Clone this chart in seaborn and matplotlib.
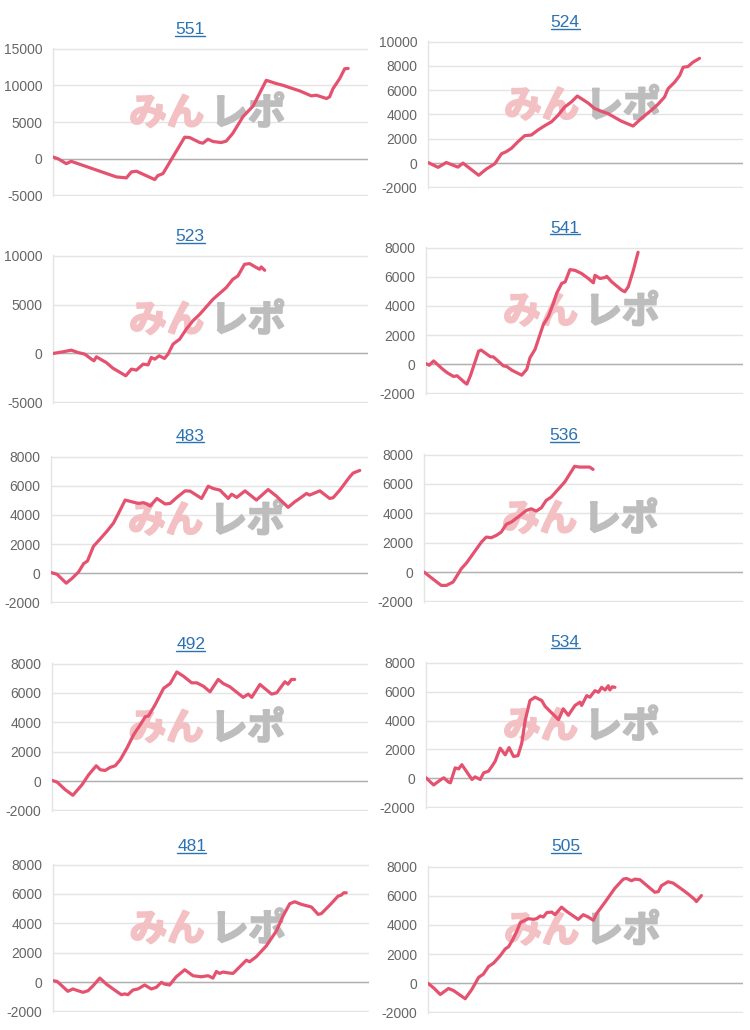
import matplotlib
matplotlib.use("Agg")
import matplotlib.pyplot as plt
import matplotlib.patheffects as pe
from matplotlib.lines import Line2D
import pandas as pd
import seaborn as sns

sns.set_theme(style="white")
plt.rcParams["font.family"] = ["Liberation Sans", "DejaVu Sans"]

# ---------------- data (x = % of the day's axis, y = balance) ----------------
TITLES = ["551", "524", "523", "541", "483", "536", "492", "534", "481", "505"]

X_551 = [0, 1.6, 4.2, 5.8, 20.1, 23.3, 24.9, 26.5, 32.3, 33.3, 34.9, 41.8, 43.4, 46.6, 47.6, 49.2, 50.8,
         53.4, 55.0, 57.1, 60.3, 63.5, 67.7, 70.9, 73.0, 75.1, 78.3, 82.0, 83.6, 86.8, 87.8, 88.9, 91.0, 92.6, 93.7]
Y_551 = [225, 0, -675, -360, -2480, -2610, -1800, -1710, -2840, -2300, -2030, 2930, 2880, 2200, 2120, 2660, 2340,
         2200, 2400, 3470, 5720, 7160, 10680, 10230, 10000, 9690, 9240, 8560, 8650, 8200, 8420, 9550, 10900, 12250, 12300]

X_524 = [0, 3.2, 5.8, 9.5, 11.1, 16.1, 18.5, 21.2, 23.3, 24.9, 26.5, 28.6, 30.7, 32.8, 34.9, 37.0, 39.2, 41.3,
         43.4, 45.5, 47.4, 50.8, 52.9, 55.0, 57.1, 61.4, 65.1, 67.7, 70.9, 73.0, 75.1, 76.2, 78.3, 79.9, 81.0,
         82.5, 84.1, 86.2]
Y_524 = [50, -350, 50, -330, 0, -1000, -490, -50, 760, 950, 1220, 1770, 2260, 2310, 2720, 3070, 3400, 3940,
         4620, 5030, 5520, 4950, 4490, 4270, 4080, 3450, 3050, 3670, 4350, 4840, 5440, 6120, 6660, 7210, 7890,
         7940, 8300, 8620]

X_523 = [0, 3.2, 5.8, 7.9, 10.1, 12.2, 13.0, 13.8, 15.4, 16.9, 19.0, 23.1, 24.9, 26.5, 28.6, 30.2, 31.2, 32.3,
         33.7, 35.4, 36.5, 38.1, 40.2, 42.3, 44.4, 46.6, 50.8, 55.0, 57.1, 58.7, 60.8, 62.4, 64.6, 65.6, 66.1, 67.2]
Y_523 = [0, 170, 340, 100, -70, -580, -750, -340, -650, -920, -1500, -2280, -1600, -1700, -1090, -1160, -410,
         -580, -240, -510, -70, 950, 1460, 2480, 3330, 4010, 5540, 6730, 7580, 7920, 9110, 9180, 8770, 8600, 8840, 8500]

X_541 = [0, 1.0, 2.4, 5.0, 6.6, 8.7, 9.8, 12.4, 12.9, 14.0, 16.6, 17.4, 20.3, 21.3, 24.4, 25.5, 27.1, 30.2, 31.8,
         32.8, 34.4, 37.0, 38.6, 40.2, 41.2, 42.8, 43.9, 45.4, 47.0, 49.1, 51.2, 52.8, 53.3, 54.9, 56.5, 57.0,
         58.6, 61.7, 62.7, 63.8, 65.4, 66.9]
Y_541 = [45, -70, 230, -290, -570, -840, -790, -1290, -1360, -790, 900, 970, 520, 500, -110, -160, -410, -750,
         -340, 450, 1020, 2710, 3280, 4180, 4860, 5540, 5650, 6490, 6440, 6220, 5880, 5580, 6100, 5880, 5950, 6030,
         5650, 5090, 4970, 5310, 6440, 7680]

X_483 = [0, 1.9, 4.8, 6.6, 8.7, 10.3, 11.5, 13.4, 15.5, 17.6, 19.7, 21.3, 23.4, 25.5, 27.6, 29.2, 30.2, 31.3,
         33.4, 36.0, 37.6, 39.7, 42.3, 43.9, 47.5, 49.6, 51.2, 53.3, 55.9, 57.0, 58.6, 61.2, 64.8, 68.5, 71.1,
         74.8, 76.9, 78.0, 80.6, 81.6, 84.8, 87.9, 89.0, 91.1, 94.2, 95.3, 97.4]
Y_483 = [45, -70, -680, -360, 90, 660, 840, 1850, 2350, 2870, 3440, 4110, 5020, 4900, 4790, 4840, 4750, 4610,
         5130, 4750, 4790, 5200, 5650, 5630, 5130, 5970, 5810, 5700, 5130, 5420, 5200, 5650, 5020, 5740, 5290,
         4520, 4900, 5060, 5470, 5360, 5650, 5130, 5180, 5700, 6600, 6870, 7050]

X_536 = [0, 2.3, 5.4, 7.0, 9.1, 10.1, 11.7, 13.3, 15.4, 18.0, 19.5, 21.1, 22.7, 24.2, 25.8, 27.4, 29.5, 32.1,
         33.6, 35.2, 36.8, 38.3, 39.9, 44.1, 47.2, 48.8, 51.9, 53.0]
Y_536 = [0, -390, -910, -910, -680, -340, 230, 610, 1250, 2040, 2380, 2340, 2500, 2720, 3250, 3410, 3750, 4200,
         4310, 4150, 4380, 4880, 5110, 6130, 7200, 7150, 7150, 6990]

X_492 = [0, 1.6, 4.2, 6.6, 9.5, 11.6, 14.0, 15.3, 16.8, 18.4, 20.0, 21.6, 23.7, 25.8, 27.9, 29.5, 30.5, 32.6,
         35.3, 37.4, 39.5, 41.6, 44.2, 45.8, 47.9, 50.0, 52.6, 54.2, 56.3, 60.5, 62.1, 63.2, 65.8, 69.5, 71.1,
         73.7, 74.7, 75.8, 76.8]
Y_492 = [45, -70, -590, -970, -250, 430, 1040, 770, 720, 930, 1040, 1450, 2240, 3140, 3820, 4380, 4430, 5180,
         6310, 6640, 7430, 7140, 6690, 6690, 6460, 6080, 6920, 6640, 6420, 5700, 5920, 5700, 6580, 5920, 6010,
         6760, 6600, 6920, 6920]

X_534 = [0, 2.4, 4.5, 5.6, 7.1, 7.7, 9.2, 10.3, 11.3, 14.5, 15.5, 17.1, 18.2, 19.7, 20.8, 21.8, 23.4, 25.0,
         26.2, 27.6, 29.0, 30.2, 31.3, 32.8, 34.4, 36.5, 37.6, 41.8, 43.3, 44.9, 47.0, 48.6, 49.1, 50.7, 51.7,
         53.3, 54.4, 55.4, 56.5, 57.5, 58.0, 58.8, 59.6]
Y_534 = [45, -450, -110, 45, -250, -300, 730, 660, 950, -70, 110, -70, 390, 500, 840, 1180, 2090, 1630, 2130,
         1520, 1570, 2430, 4020, 5380, 5610, 5380, 4970, 4060, 4810, 4360, 5040, 5270, 5040, 5720, 5610, 6060,
         5950, 6290, 6110, 6400, 6110, 6330, 6290]

X_481 = [0, 1.3, 4.7, 6.3, 7.9, 9.5, 11.1, 12.7, 14.8, 16.9, 19.0, 21.6, 22.7, 23.7, 25.3, 26.9, 29.0, 31.1,
         32.7, 34.3, 35.3, 36.9, 39.0, 41.7, 44.3, 46.9, 49.1, 50.6, 51.7, 52.7, 53.8, 55.9, 57.0, 59.1, 61.2,
         62.2, 64.3, 67.5, 70.7, 72.8, 74.9, 76.5, 78.6, 81.8, 83.9, 84.9, 87.6, 90.2, 91.2, 92.0, 92.8]
Y_481 = [90, 45, -630, -470, -590, -700, -590, -250, 270, -140, -470, -860, -810, -860, -540, -470, -200, -470,
         -360, -20, -140, -200, 360, 840, 430, 360, 430, 270, 720, 590, 680, 610, 590, 1040, 1490, 1380, 1720,
         2460, 3480, 4500, 5330, 5470, 5290, 5110, 4610, 4660, 5240, 5850, 5920, 6080, 6080]

X_505 = [0, 1.8, 3.9, 6.5, 8.1, 11.8, 13.9, 16.1, 17.6, 19.2, 20.8, 22.9, 24.5, 25.6, 27.1, 28.2, 29.3, 30.8,
         31.9, 33.5, 34.5, 35.6, 36.6, 37.7, 39.3, 40.3, 42.4, 44.0, 47.7, 49.3, 50.9, 52.5, 53.5, 56.2, 59.3,
         62.0, 63.0, 64.6, 65.7, 67.3, 72.0, 73.1, 74.1, 76.2, 77.8, 80.5, 82.6, 84.7, 85.2, 86.8]
Y_505 = [0, -320, -770, -360, -500, -1060, -430, 410, 630, 1150, 1380, 1880, 2350, 2510, 3070, 3570, 4160, 4320,
         4430, 4380, 4430, 4610, 4540, 4840, 4880, 4700, 5220, 4930, 4380, 4700, 4540, 4320, 4770, 5560, 6510,
         7140, 7190, 7030, 7140, 7100, 6240, 6280, 6690, 6960, 6870, 6460, 6120, 5740, 5600, 6010]

SERIES_X = [X_551, X_524, X_523, X_541, X_483, X_536, X_492, X_534, X_481, X_505]
SERIES_Y = [Y_551, Y_524, Y_523, Y_541, Y_483, Y_536, Y_492, Y_534, Y_481, Y_505]

TICKS_A = [-5000, 0, 5000, 10000, 15000]
TICKS_B = [-2000, 0, 2000, 4000, 6000, 8000, 10000]
TICKS_C = [-5000, 0, 5000, 10000]
TICKS_D = [-2000, 0, 2000, 4000, 6000, 8000]
YTICKS = [TICKS_A, TICKS_B, TICKS_C, TICKS_D, TICKS_D, TICKS_D, TICKS_D, TICKS_D, TICKS_D, TICKS_D]

# ---------------- layout (pixels: left, top, right, bottom) ----------------
W, H = 750, 1030
BOXES = [(53, 48, 368, 196), (428, 41, 743, 188),
         (53, 255, 368, 403), (426, 247, 743, 394),
         (51, 456, 368, 603), (424, 454, 743, 602),
         (52, 663, 368, 811), (426, 662, 743, 808),
         (53, 864, 369, 1012), (428, 866, 743, 1013)]
TITLE_POS = [(190, 34.3), (565, 27.3), (190, 241), (565, 232.7), (190, 440.7),
             (564, 440), (190.7, 649.3), (565, 646.7), (191.7, 851), (566, 851)]

LINE_COLOR = "#e5526f"
GRID_COLOR = "#e4e4e4"
ZERO_COLOR = "#b0b0b0"
TICK_COLOR = "#666666"
TITLE_COLOR = "#2a72b2"
PINK = "#f3c0c3"
GRAY = "#bdbdbd"
CJK = ["Noto Sans CJK JP", "DejaVu Sans"]

fig = plt.figure(figsize=(W / 100, H / 100), dpi=100)
fig.patch.set_facecolor("white")

titles = []
for i in range(10):
    L, T, R, B = BOXES[i]
    ax = fig.add_axes([L / W, 1 - B / H, (R - L) / W, (B - T) / H])
    ax.set_facecolor("white")
    df = pd.DataFrame({"x": SERIES_X[i], "y": SERIES_Y[i]})
    sns.lineplot(data=df, x="x", y="y", ax=ax, color=LINE_COLOR, linewidth=2.3,
                 sort=False, estimator=None, zorder=4)
    ticks = YTICKS[i]
    span = ticks[-1] - ticks[0]
    ax.set_ylim(ticks[0] - span * 0.004, ticks[-1] + span * 0.004)
    ax.set_xlim(0, 100)
    ax.set_yticks(ticks)
    ax.set_yticklabels([str(t) for t in ticks])
    ax.set_xticks([])
    ax.set_xlabel("")
    ax.set_ylabel("")
    ax.tick_params(axis="y", length=0, pad=7.5, labelsize=10, labelcolor=TICK_COLOR)
    ax.yaxis.grid(True, color=GRID_COLOR, linewidth=1.0, zorder=0)
    ax.set_axisbelow(True)
    ax.axhline(0, color=ZERO_COLOR, linewidth=1.0, zorder=2)
    for s in ["top", "right", "bottom"]:
        ax.spines[s].set_visible(False)
    ax.spines["left"].set_color(GRID_COLOR)
    ax.spines["left"].set_linewidth(1.0)

    # watermark logo
    ax.text(0.48, 0.56, "みん", transform=ax.transAxes, ha="right", va="center",
            fontsize=27, fontweight="bold", color=PINK, zorder=1, family=CJK,
            path_effects=[pe.withStroke(linewidth=1.5, foreground=PINK)])
    ax.text(0.50, 0.56, "レポ", transform=ax.transAxes, ha="left", va="center",
            fontsize=27, fontweight="bold", color=GRAY, zorder=1, family=CJK,
            path_effects=[pe.withStroke(linewidth=1.5, foreground=GRAY)])

    tx, ty = TITLE_POS[i]
    t = fig.text(tx / W, 1 - ty / H, TITLES[i], ha="center", va="baseline",
                 fontsize=12.5, color=TITLE_COLOR)
    titles.append((t, ty))

fig.canvas.draw()
renderer = fig.canvas.get_renderer()
for t, ty in titles:
    bb = t.get_window_extent(renderer)
    yl = 1 - (ty + 1.5) / H
    fig.add_artist(Line2D([bb.x0 / W, bb.x1 / W], [yl, yl], transform=fig.transFigure,
                          color=TITLE_COLOR, linewidth=1.0))

fig.savefig("out.png", dpi=100, facecolor="white")
